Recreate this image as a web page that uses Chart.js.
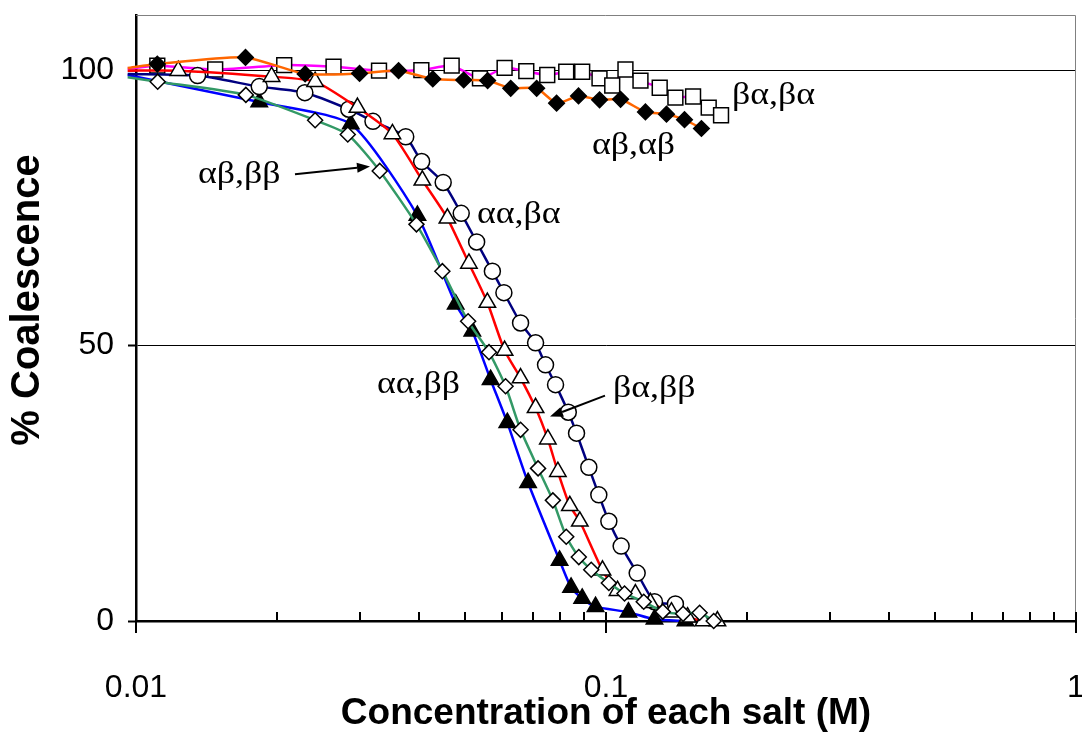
<!DOCTYPE html>
<html>
<head>
<meta charset="utf-8">
<script src="https://cdn.jsdelivr.net/npm/chart.js@4.4.1/dist/chart.umd.min.js"></script>
<style>
  html, body { margin: 0; padding: 0; background: #ffffff; }
  #wrap { width: 1082px; height: 735px; position: relative; }
</style>
</head>
<body>
<div id="wrap"><canvas id="chart"></canvas></div>
<script>
// Axis tick values
const xTickValues = [0.01, 0.1, 1];
const yTickValues = [0, 50, 100];

// αβ,αβ  (filled diamonds)
const abab_x = [0.0096, 0.0111, 0.0171, 0.0229, 0.0299, 0.0362, 0.0428, 0.0498, 0.0560, 0.0627, 0.0712, 0.0785, 0.0874, 0.0969, 0.1074, 0.1213, 0.1345, 0.1469, 0.1596];
const abab_y = [100.4, 101.1, 102.3, 99.3, 99.4, 99.9, 98.4, 98.2, 98.1, 96.7, 96.7, 94.0, 95.3, 94.6, 94.7, 92.4, 92.0, 91.0, 89.4];

// βα,βα  (open squares)
const baba_x = [0.0096, 0.0111, 0.01474, 0.02067, 0.02632, 0.03289, 0.04047, 0.04695, 0.05393, 0.06085, 0.06767, 0.07499, 0.08230, 0.08899, 0.09687, 0.1031, 0.1100, 0.1184, 0.1301, 0.1405, 0.1532, 0.1654, 0.1757];
const baba_y = [100.2, 100.8, 100.1, 100.9, 100.6, 99.9, 100.0, 100.8, 98.5, 100.4, 99.8, 99.1, 99.7, 99.7, 98.5, 97.2, 100.1, 98.1, 96.8, 95.0, 95.2, 93.2, 91.8];

// αα,βα  (open circles)
const aaba_x = [0.0096, 0.01352, 0.01829, 0.02287, 0.02836, 0.03193, 0.03749, 0.04053, 0.04504, 0.04920, 0.05306, 0.05731, 0.06064, 0.06580, 0.07082, 0.07436, 0.07810, 0.08313, 0.08656, 0.09193, 0.09654, 0.1014, 0.1077, 0.1165, 0.1268, 0.1405];
const aaba_y = [99.3, 99.0, 97.0, 95.9, 92.9, 90.7, 87.9, 83.4, 79.6, 74.0, 68.8, 63.5, 59.6, 54.1, 50.5, 46.5, 42.9, 37.9, 34.1, 27.9, 22.9, 18.1, 13.6, 8.7, 3.5, 3.1];

// βα,ββ  (open triangles)
const babb_x = [0.0096, 0.01230, 0.01943, 0.02405, 0.02959, 0.03512, 0.04067, 0.04598, 0.05109, 0.05592, 0.06085, 0.06580, 0.07082, 0.07521, 0.07899, 0.08377, 0.08796, 0.09830, 0.1058, 0.1155, 0.1243, 0.1378, 0.1491, 0.1611, 0.1726];
const babb_y = [99.9, 99.9, 98.8, 97.9, 93.2, 88.4, 80.0, 73.1, 64.9, 57.8, 49.1, 44.1, 38.7, 33.0, 27.1, 20.9, 18.1, 9.2, 5.5, 4.9, 3.3, 1.6, 0.7, 0, 0];

// αβ,ββ  (open diamonds)
const abbb_x = [0.0096, 0.01112, 0.01713, 0.02405, 0.02822, 0.03300, 0.03951, 0.04486, 0.05089, 0.05637, 0.06114, 0.06580, 0.07169, 0.07708, 0.08230, 0.08753, 0.09302, 0.1014, 0.1095, 0.1203, 0.1321, 0.1459, 0.1582, 0.1695];
const abbb_y = [98.7, 97.9, 95.5, 90.9, 88.3, 81.7, 72.0, 63.5, 54.4, 48.8, 42.6, 34.7, 27.7, 21.9, 15.3, 11.6, 9.3, 6.9, 5.0, 3.5, 1.7, 1.3, 1.5, 0];

// αα,ββ  (filled triangles)
const aabb_x = [0.0096, 0.01829, 0.02864, 0.03970, 0.04788, 0.05195, 0.05681, 0.06166, 0.06827, 0.07965, 0.08426, 0.08899, 0.09499, 0.1116, 0.1268, 0.1476];
const aabb_y = [99.1, 94.2, 90.2, 73.6, 57.5, 52.6, 43.8, 36.0, 25.1, 11.0, 6.1, 4.1, 2.6, 1.6, 0.3, 0];

// Series labels and the arrows that point at their curves (data coordinates)
const seriesLabels = [
  { text: 'βα,βα', x: 0.1854, y: 93.8 },
  { text: 'αβ,αβ', x: 0.0934, y: 84.7 },
  { text: 'αβ,ββ', x: 0.01355, y: 79.5 },
  { text: 'αα,βα', x: 0.05316, y: 72.3 },
  { text: 'αα,ββ', x: 0.03256, y: 41.4 },
  { text: 'βα,ββ', x: 0.1035, y: 40.7 }
];
const labelArrows = [
  { from: [0.02179, 81.1], to: [0.03147, 82.5] },
  { from: [0.09951, 40.9], to: [0.07601, 37.1] }
];

const pts = (xs, ys) => xs.map((x, i) => ({ x: x, y: ys[i] }));

// points left of 0.01 only carry the line to the axis edge
const radiusFor = r => ctx => (ctx.raw && ctx.raw.x < 0.01 ? 0 : r);

function series(label, xs, ys, lineColor, shape, fill, r) {
  return {
    label: label,
    data: pts(xs, ys),
    borderColor: lineColor,
    borderWidth: 2.5,
    tension: 0.2,
    pointStyle: shape,
    pointRadius: radiusFor(r),
    pointHoverRadius: radiusFor(r),
    pointBackgroundColor: fill,
    pointBorderColor: '#000000',
    pointBorderWidth: 1.5,
    clip: false
  };
}

// draw order: first dataset ends up on top
const datasets = [
  series('αβ,ββ', abbb_x, abbb_y, '#339966', 'rectRot', '#ffffff', 7.5),
  series('αβ,αβ', abab_x, abab_y, '#FF6600', 'rectRot', '#000000', 7.8),
  series('βα,ββ', babb_x, babb_y, '#FF0000', 'triangle', '#ffffff', 9.5),
  series('αα,βα', aaba_x, aaba_y, '#000080', 'circle', '#ffffff', 8),
  series('αα,ββ', aabb_x, aabb_y, '#0000FF', 'triangle', '#000000', 9.5),
  series('βα,βα', baba_x, baba_y, '#FF00FF', 'rect', '#ffffff', 10.5)
];

const sansFamily = '"Liberation Sans", Arial, sans-serif';

// plot frame (top/right), log-axis tick marks, y title, labels and arrows
const frameAndTicks = {
  id: 'frameAndTicks',
  beforeDatasetsDraw(chart) {
    const { ctx, chartArea: a, scales } = chart;
    ctx.save();
    ctx.strokeStyle = '#808080';
    ctx.lineWidth = 1;
    ctx.beginPath();
    ctx.moveTo(a.left, a.top + 0.5);
    ctx.lineTo(a.right - 0.5, a.top + 0.5);
    ctx.lineTo(a.right - 0.5, a.bottom);
    ctx.stroke();

    const xs = scales.x;
    ctx.strokeStyle = '#000000';
    ctx.lineWidth = 2;
    ctx.beginPath();
    [0.01, 0.1].forEach(d => {
      for (let k = 2; k <= 9; k++) {
        const px = Math.round(xs.getPixelForValue(d * k));
        ctx.moveTo(px, a.bottom);
        ctx.lineTo(px, a.bottom - 9);
      }
    });
    xTickValues.forEach(v => {
      const px = Math.round(xs.getPixelForValue(v));
      ctx.moveTo(px, a.bottom - 9);
      ctx.lineTo(px, a.bottom + 12);
    });
    ctx.stroke();

    // y-axis title
    ctx.fillStyle = '#000000';
    ctx.font = 'bold 40px ' + sansFamily;
    ctx.textAlign = 'center';
    ctx.textBaseline = 'middle';
    ctx.translate(28, (a.top + a.bottom) / 2 - 18);
    ctx.rotate(-Math.PI / 2);
    ctx.fillText('% Coalescence', 0, 0);
    ctx.restore();
  },
  afterDatasetsDraw(chart) {
    const { ctx, scales } = chart;
    const X = v => scales.x.getPixelForValue(v);
    const Y = v => scales.y.getPixelForValue(v);
    ctx.save();
    ctx.fillStyle = '#000000';
    ctx.font = '32px "Liberation Serif", "Times New Roman", serif';
    ctx.textAlign = 'left';
    ctx.textBaseline = 'alphabetic';
    seriesLabels.forEach(l => {
      ctx.save();
      ctx.translate(X(l.x), Y(l.y));
      ctx.scale(1.12, 1);
      ctx.fillText(l.text, 0, 0);
      ctx.restore();
    });

    ctx.strokeStyle = '#000000';
    ctx.lineWidth = 2;
    labelArrows.forEach(ar => {
      const x0 = X(ar.from[0]), y0 = Y(ar.from[1]);
      const x1 = X(ar.to[0]), y1 = Y(ar.to[1]);
      const ang = Math.atan2(y1 - y0, x1 - x0);
      const hl = 13, hw = 5;
      const bx = x1 - hl * Math.cos(ang), by = y1 - hl * Math.sin(ang);
      ctx.beginPath();
      ctx.moveTo(x0, y0);
      ctx.lineTo(bx, by);
      ctx.stroke();
      ctx.beginPath();
      ctx.moveTo(x1, y1);
      ctx.lineTo(bx + hw * Math.sin(ang), by - hw * Math.cos(ang));
      ctx.lineTo(bx - hw * Math.sin(ang), by + hw * Math.cos(ang));
      ctx.closePath();
      ctx.fill();
    });
    ctx.restore();
  }
};

new Chart(document.getElementById('chart'), {
  type: 'line',
  data: { datasets: datasets },
  options: {
    responsive: true,
    maintainAspectRatio: false,
    animation: false,
    events: [],
    layout: { autoPadding: false, padding: { top: 15, right: 6, left: 0, bottom: 0 } },
    plugins: { legend: { display: false }, tooltip: { enabled: false } },
    scales: {
      x: {
        type: 'logarithmic',
        min: 0.01,
        max: 1,
        afterBuildTicks: s => { s.ticks = xTickValues.map(v => ({ value: v })); },
        afterFit: s => { s.height = 114; s.paddingLeft = 0; s.paddingRight = 0; },
        grid: { display: false, drawTicks: false },
        border: { display: true, color: '#000000', width: 2.5 },
        ticks: {
          autoSkip: false,
          maxRotation: 0,
          padding: 48,
          color: '#000000',
          font: { family: sansFamily, size: 32 },
          callback: v => String(v)
        },
        title: {
          display: true,
          text: 'Concentration of each salt (M)',
          color: '#000000',
          font: { family: sansFamily, size: 37, weight: 'bold' },
          padding: { top: 0, bottom: -1 }
        }
      },
      y: {
        type: 'linear',
        min: 0,
        max: 110,
        afterBuildTicks: s => { s.ticks = yTickValues.map(v => ({ value: v })); },
        afterFit: s => { s.width = 136; s.paddingTop = 0; s.paddingBottom = 0; },
        grid: { color: '#000000', lineWidth: 1, drawTicks: true, tickLength: 8, tickColor: '#000000', tickWidth: 2 },
        border: { display: true, color: '#000000', width: 2.5 },
        ticks: {
          padding: 14,
          color: '#000000',
          font: { family: sansFamily, size: 32 }
        },
        title: { display: false }
      }
    }
  },
  plugins: [frameAndTicks]
});
</script>
</body>
</html>
